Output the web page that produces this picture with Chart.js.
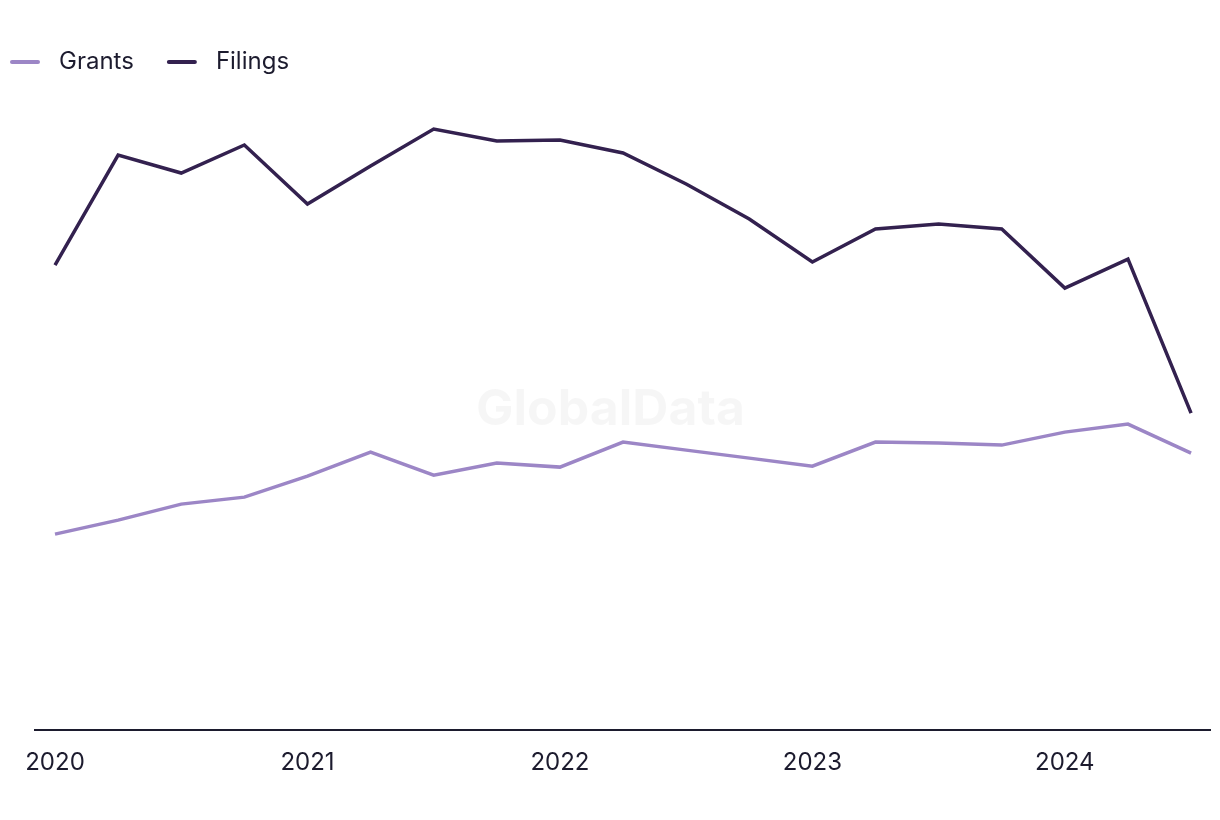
<!DOCTYPE html>
<html>
<head>
<meta charset="utf-8">
<script src="https://cdn.jsdelivr.net/npm/chart.js@4.4.1/dist/chart.umd.min.js"></script>
<style>
    html, body { margin: 0; padding: 0; background: #ffffff; overflow: hidden; }
    #wrap { position: absolute; left: -23px; top: 0; width: 1243px; height: 820px; }
</style>
</head>
<body>
<div id="wrap"><canvas id="patentCanvas"></canvas></div>
<script>
// quarterly points, 2020 Q1 .. 2024 Q3
const quarters = [0, 1, 2, 3, 4, 5, 6, 7, 8, 9, 10, 11, 12, 13, 14, 15, 16, 17, 18];
const filings = [465, 575, 557, 585, 526, 564, 601, 589, 590, 577, 546, 511, 468, 501, 506, 501, 442, 471, 317];
const grants = [196, 210, 226, 233, 254, 278, 255, 267, 263, 288, 280, 272, 264, 288, 287, 285, 298, 306, 277];
const yearTicks = [0, 4, 8, 12, 16];
const yearLabels = ['2020', '2021', '2022', '2023', '2024'];

const textColor = '#1c1b2e';
const fontFamily = 'Inter, "Noto Sans", sans-serif';

const watermark = {
    id: 'watermark',
    beforeDatasetsDraw(chart) {
        const { ctx, chartArea } = chart;
        ctx.save();
        ctx.font = 'bold 50px ' + fontFamily;
        ctx.fillStyle = 'rgba(0, 0, 0, 0.035)';
        ctx.textAlign = 'center';
        ctx.textBaseline = 'middle';
        ctx.fillText('GlobalData', (chartArea.left + chartArea.right) / 2 - 12, (chartArea.top + chartArea.bottom) / 2 + 3);
        ctx.restore();
    }
};

// legend markers: short rounded lines drawn into the legend's own box slots
const legendLines = {
    id: 'legendLines',
    afterDraw(chart) {
        const legend = chart.legend;
        if (!legend || !legend.legendHitBoxes) return;
        const ctx = chart.ctx;
        ctx.save();
        ctx.lineWidth = 4;
        ctx.lineCap = 'round';
        legend.legendHitBoxes.forEach((box, i) => {
            const y = box.top + box.height / 2;
            ctx.strokeStyle = chart.data.datasets[i].borderColor;
            ctx.beginPath();
            ctx.moveTo(box.left + 2, y);
            ctx.lineTo(box.left + 28, y);
            ctx.stroke();
        });
        ctx.restore();
    }
};

document.addEventListener('DOMContentLoaded', function() {
    const ctx = document.getElementById('patentCanvas').getContext('2d');

    new Chart(ctx, {
        type: 'line',
        data: {
            datasets: [
                {
                    label: 'Grants',
                    data: quarters.map((q, i) => ({ x: q, y: grants[i] })),
                    borderColor: '#9c86c6',
                    backgroundColor: '#9c86c6',
                    borderWidth: 3.5,
                    pointRadius: 0,
                    tension: 0
                },
                {
                    label: 'Filings',
                    data: quarters.map((q, i) => ({ x: q, y: filings[i] })),
                    borderColor: '#33214f',
                    backgroundColor: '#33214f',
                    borderWidth: 3.5,
                    pointRadius: 0,
                    tension: 0
                }
            ]
        },
        options: {
            responsive: true,
            maintainAspectRatio: false,
            animation: false,
            layout: {
                padding: { left: 0, right: 10, top: 17, bottom: 25 }
            },
            plugins: {
                legend: {
                    position: 'top',
                    align: 'start',
                    labels: {
                        color: textColor,
                        font: { family: fontFamily, size: 24 },
                        boxWidth: 37,
                        boxHeight: 4,
                        padding: 33,
                        generateLabels: function(chart) {
                            return chart.data.datasets.map((ds, i) => ({
                                text: ds.label,
                                fillStyle: 'rgba(0, 0, 0, 0)',
                                strokeStyle: 'rgba(0, 0, 0, 0)',
                                lineWidth: 0,
                                fontColor: textColor,
                                datasetIndex: i
                            }));
                        }
                    }
                },
                tooltip: { enabled: false }
            },
            scales: {
                x: {
                    type: 'linear',
                    min: -0.317,
                    max: 18.3,
                    grid: { display: false, drawTicks: false },
                    border: { display: true, color: textColor, width: 2 },
                    afterBuildTicks: function(scale) {
                        scale.ticks = yearTicks.map(v => ({ value: v }));
                    },
                    ticks: {
                        padding: 18,
                        maxRotation: 0,
                        color: textColor,
                        font: { family: fontFamily, size: 24 },
                        callback: function(value) {
                            const idx = yearTicks.indexOf(value);
                            return idx >= 0 ? yearLabels[idx] : '';
                        }
                    }
                },
                y: {
                    min: 0,
                    max: 646,
                    grid: { display: false },
                    border: { display: false },
                    ticks: { display: false },
                    afterFit: function(scale) {
                        scale.width = 58;
                    }
                }
            }
        },
        plugins: [watermark, legendLines]
    });
});
</script>
</body>
</html>
